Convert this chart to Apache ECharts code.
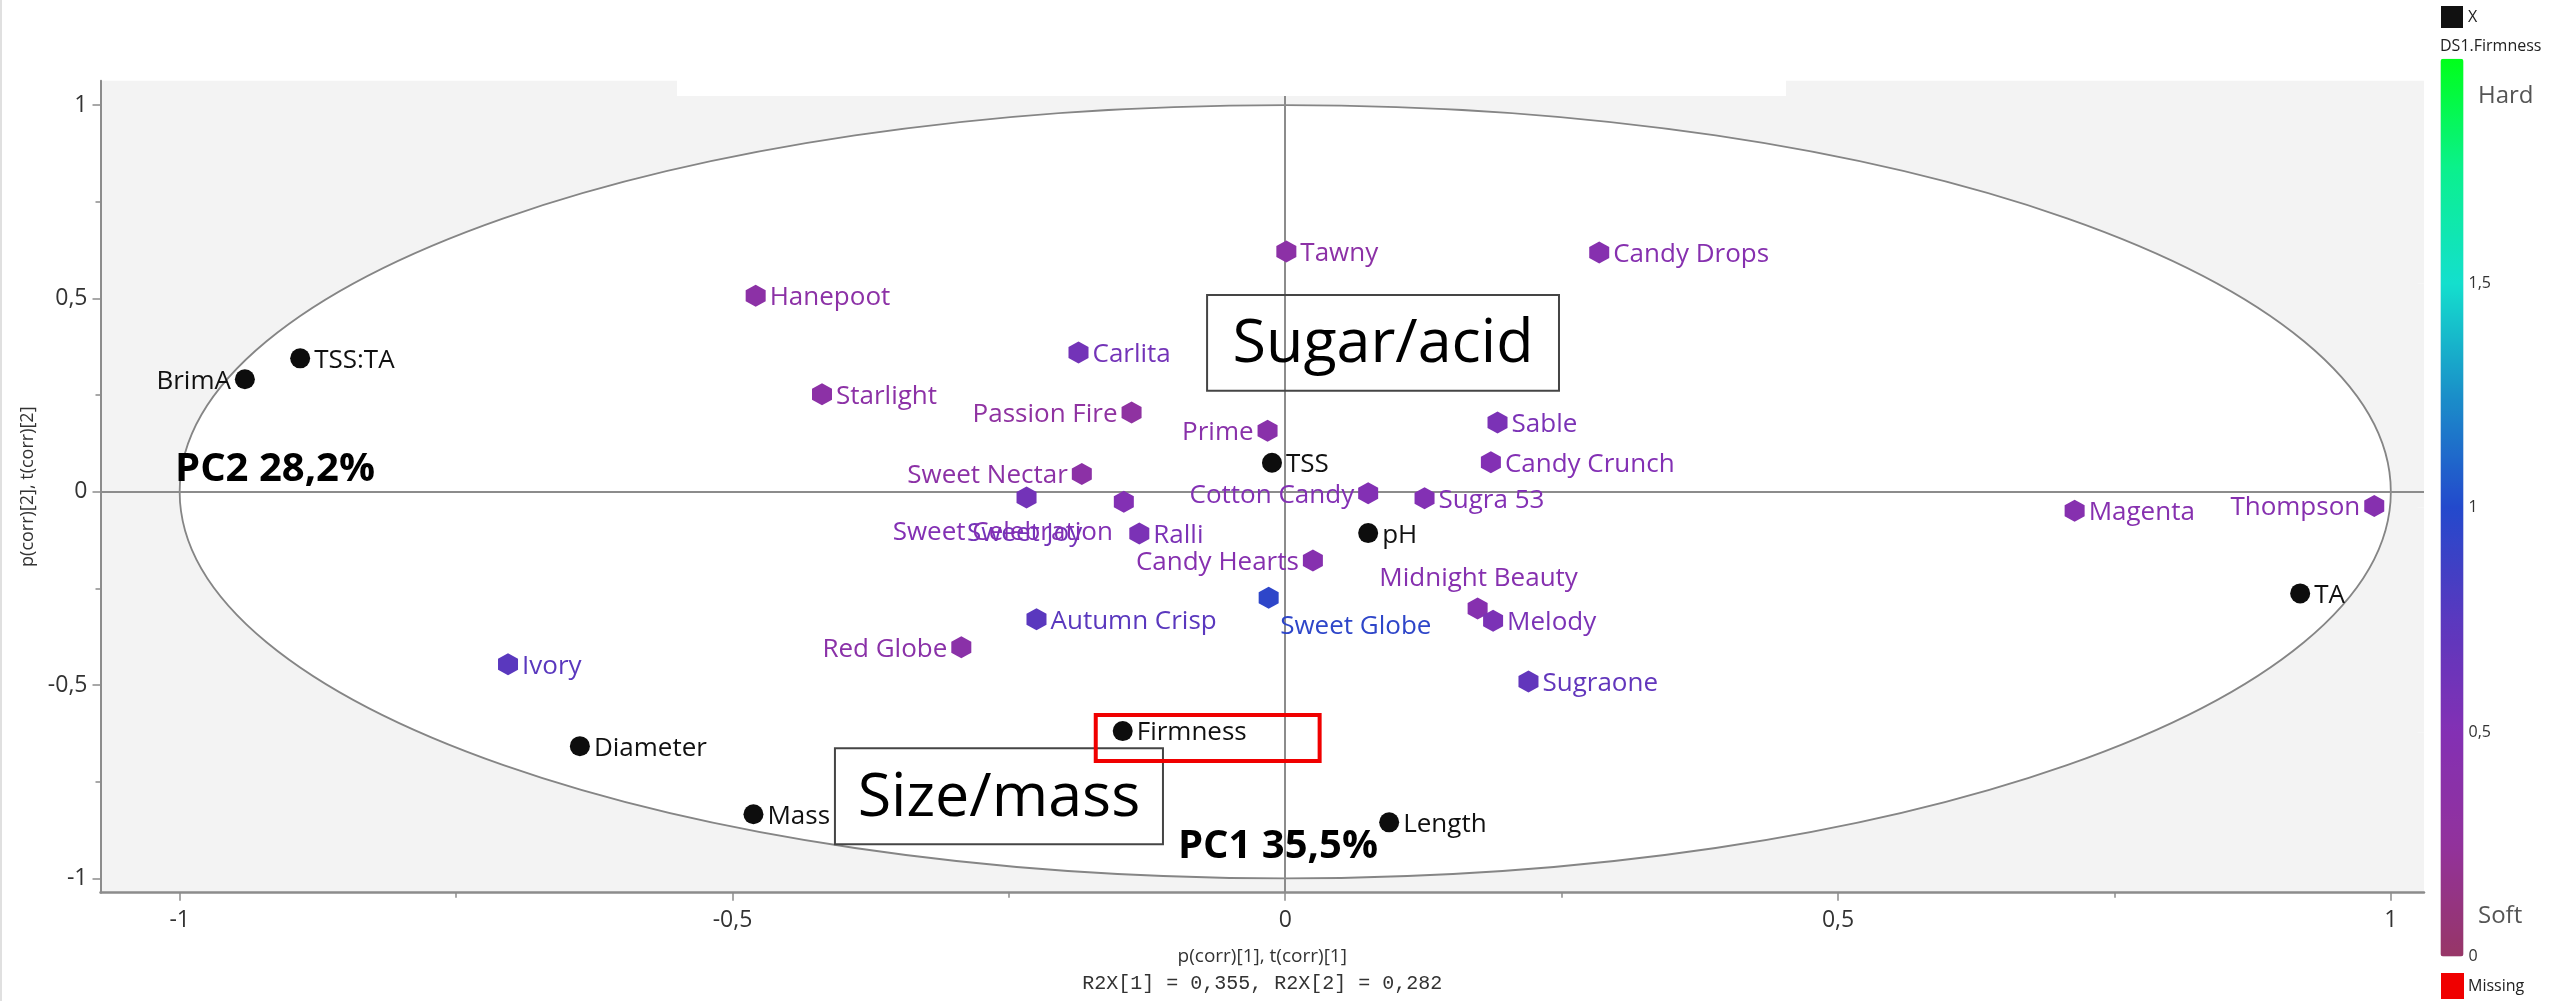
<!DOCTYPE html>
<html><head><meta charset="utf-8">
<script src="https://cdn.jsdelivr.net/npm/echarts@6/dist/echarts.min.js"></script>
<style>html,body{margin:0;padding:0;background:#fff;}#c{width:2552px;height:1001px;}</style>
</head><body><div id="c"></div>
<script>
// ---------- DATA ----------
// Observations (cultivars): PC1 / PC2 scores (t(corr)) and firmness (colour scale)
const cultivars = ['Hanepoot','Starlight','Tawny','Candy Drops','Carlita','Passion Fire','Prime','Sable','Candy Crunch','Sweet Nectar','Cotton Candy','Sugra 53','Sweet Joy','Sweet Celebration','Ralli','Candy Hearts','Sweet Globe','Midnight Beauty','Melody','Autumn Crisp','Red Globe','Sugraone','Ivory','Magenta','Thompson'];
const cultivarPC1 = [-0.479,-0.419,0.001,0.284,-0.187,-0.139,-0.016,0.192,0.186,-0.184,0.075,0.126,-0.234,-0.146,-0.132,0.025,-0.015,0.174,0.188,-0.225,-0.293,0.220,-0.703,0.714,0.985];
const cultivarPC2 = [0.507,0.252,0.621,0.619,0.360,0.205,0.158,0.179,0.076,0.046,-0.004,-0.017,-0.015,-0.026,-0.108,-0.178,-0.274,-0.302,-0.334,-0.330,-0.402,-0.491,-0.446,-0.049,-0.037];
const cultivarFirmness = [0.35,0.35,0.35,0.45,0.6,0.3,0.4,0.55,0.5,0.35,0.5,0.5,0.6,0.5,0.55,0.45,0.95,0.45,0.55,0.75,0.38,0.7,0.75,0.45,0.45];
// Variables (loadings p(corr))
const variables = ['BrimA','TSS:TA','TSS','pH','TA','Firmness','Length','Diameter','Mass'];
const variablePC1 = [-0.941,-0.891,-0.012,0.075,0.918,-0.147,0.094,-0.638,-0.481];
const variablePC2 = [0.291,0.345,0.075,-0.107,-0.263,-0.619,-0.855,-0.658,-0.834];
// Axis ticks
const majorTicks = [-1,-0.5,0,0.5,1];
const minorTicks = [-0.75,-0.25,0.25,0.75];
const colorbarTicks = [0,0.5,1,1.5];
const ellipseRadii = [1,1];
// Annotations
const boxTexts = ['Sugar/acid','Size/mass'];
const boxLeft = [-0.0707,-0.4073], boxRight = [0.2476,-0.1106], boxTop = [0.5087,-0.6637], boxBottom = [0.2612,-0.912];
const pcTexts = ['PC2 28,2%','PC1 35,5%'];
const pcX = [-1.0042,-0.097], pcY = [0.0561,-0.919];
const highlightBox = [-0.1714,-0.5775,0.0311,-0.6965];

// ---------- STYLE ----------
const FONT = '"Open Sans","Noto Sans",sans-serif';
const comma = v => String(v).replace('.', ',');
const labelSide = {'Passion Fire':'left','Prime':'left','Sweet Nectar':'left','Cotton Candy':'left','Candy Hearts':'left','Red Globe':'left','Thompson':'left','BrimA':'left','Midnight Beauty':'top','Sweet Globe':'bottomRight','Sweet Celebration':'bottomLeft','Sweet Joy':'bottom'};
const placements = {
  right:{align:'left',offset:[14,2]},
  left:{align:'right',offset:[-14,2]},
  top:{align:'center',offset:[1,-30]},
  bottomRight:{align:'left',offset:[11.5,29]},
  bottomLeft:{align:'right',offset:[-11,31]},
  bottom:{align:'center',offset:[-2,36]}
};
function labelFor(name){
  const p = placements[labelSide[name] || 'right'];
  return {position:['50%','50%'], align:p.align, verticalAlign:'middle', offset:p.offset};
}
const HEX = 'path://M0,-1L0.866,-0.5L0.866,0.5L0,1L-0.866,0.5L-0.866,-0.5Z';

const cultivarData = cultivars.map((n,i)=>({name:n, value:[cultivarPC1[i],cultivarPC2[i],cultivarFirmness[i]], label:labelFor(n)}));
const variableData = variables.map((n,i)=>({name:n, value:[variablePC1[i],variablePC2[i]], label:labelFor(n)}));

const axisGray = '#8c8c8c';
const chart = echarts.init(document.getElementById('c'), null, {width:2552, height:1001});
chart.setOption({
  animation:false,
  backgroundColor:'#ffffff',
  grid:[
    {left:100.5, top:80.7, right:128, bottom:108.3, show:true, backgroundColor:'#f3f3f3', borderWidth:0},
    {left:2440.5, top:58.7, width:23, height:897.9, show:false}
  ],
  xAxis:[
    {gridIndex:0, type:'value', min:-1.0716, max:1.030, position:'bottom',
     axisLine:{show:true, onZero:false, lineStyle:{color:axisGray, width:2.5}},
     axisTick:{show:true, length:8, customValues:majorTicks, lineStyle:{color:axisGray, width:1.5}},
     axisLabel:{customValues:majorTicks, formatter:comma, fontSize:23, color:'#333', fontFamily:FONT, margin:16},
     splitLine:{show:false},
     name:'{a|p(corr)[1], t(corr)[1]}\n{b|R2X[1] = 0,355, R2X[2] = 0,282}', nameLocation:'middle', nameGap:51,
     nameTextStyle:{rich:{a:{fontSize:19, fontFamily:FONT, color:'#333', lineHeight:26, align:'center'}, b:{fontSize:20, fontFamily:'"Liberation Mono","DejaVu Sans Mono",monospace', color:'#333', lineHeight:28, align:'center'}}}},
    {gridIndex:0, type:'value', min:-1.0716, max:1.030, position:'bottom',
     axisLine:{show:false, onZero:false}, axisLabel:{show:false}, splitLine:{show:false},
     axisTick:{show:true, length:5, customValues:minorTicks, lineStyle:{color:axisGray, width:1.5}}},
    {gridIndex:1, type:'value', min:0, max:1, show:false}
  ],
  yAxis:[
    {gridIndex:0, type:'value', min:-1.037, max:1.063, position:'left',
     axisLine:{show:true, onZero:false, lineStyle:{color:axisGray, width:2}},
     axisTick:{show:true, length:8, customValues:majorTicks, lineStyle:{color:axisGray, width:1.5}},
     axisLabel:{customValues:majorTicks, formatter:comma, fontSize:23, color:'#333', fontFamily:FONT, margin:13},
     splitLine:{show:false},
     name:'p(corr)[2], t(corr)[2]', nameLocation:'middle', nameGap:60, nameRotate:90,
     nameTextStyle:{fontSize:18, fontFamily:FONT, color:'#333'}},
    {gridIndex:0, type:'value', min:-1.037, max:1.063, position:'left',
     axisLine:{show:false, onZero:false}, axisLabel:{show:false}, splitLine:{show:false},
     axisTick:{show:true, length:5, customValues:minorTicks, lineStyle:{color:axisGray, width:1.5}}},
    {gridIndex:1, type:'value', min:0, max:2, position:'right',
     axisLine:{show:false}, splitLine:{show:false},
     axisTick:{show:true, inside:true, length:23, customValues:[0.5,1,1.5], lineStyle:{color:'rgba(255,255,255,0.25)', width:1}},
     axisLabel:{customValues:colorbarTicks, formatter:comma, fontSize:16, color:'#333', fontFamily:FONT, margin:5}}
  ],
  visualMap:{type:'continuous', min:0, max:2, dimension:2, seriesIndex:2, orient:'vertical',
    left:2440.5, top:58.7, itemWidth:23, itemHeight:897.9, padding:0, calculable:false, hoverLink:false,
    inRange:{color:['#973667','#92329c','#8330b4','#5a38be','#2349cc','#1a8fc9','#14dfcd','#0bf08f','#00ff1a']}},
  series:[
    {type:'custom', name:'ellipse', xAxisIndex:0, yAxisIndex:0, z:1, silent:true, clip:false,
     data:[[0,0,ellipseRadii[0],ellipseRadii[1]]],
     renderItem:(params, api)=>{
       const c = api.coord([api.value(0), api.value(1)]);
       const px = api.coord([api.value(0)+api.value(2), api.value(1)]);
       const py = api.coord([api.value(0), api.value(1)+api.value(3)]);
       return {type:'ellipse', shape:{cx:c[0], cy:c[1], rx:px[0]-c[0], ry:c[1]-py[1]}, style:{fill:'#ffffff', stroke:'#858585', lineWidth:1.8}};
     },
     markLine:{silent:true, z:2, symbol:'none', label:{show:false}, lineStyle:{color:axisGray, width:2, type:'solid'}, data:[{xAxis:0},{yAxis:0}]}
    },
    {type:'scatter', name:'X', xAxisIndex:0, yAxisIndex:0, z:3, symbol:'circle', symbolSize:20,
     itemStyle:{color:'#0d0d0d', opacity:1}, data:variableData,
     label:{show:true, formatter:'{b}', fontSize:26, fontFamily:FONT, color:'#111111'}},
    {type:'scatter', name:'obs', xAxisIndex:0, yAxisIndex:0, z:3, symbol:HEX, symbolSize:[20,22],
     itemStyle:{opacity:1}, data:cultivarData,
     label:{show:true, formatter:'{b}', fontSize:26, fontFamily:FONT, color:'inherit'}},
    {type:'custom', name:'boxes', xAxisIndex:0, yAxisIndex:0, z:5, silent:true, clip:false,
     data:boxTexts.map((t,i)=>[boxLeft[i],boxTop[i],boxRight[i],boxBottom[i]]),
     renderItem:(params, api)=>{
       const a = api.coord([api.value(0), api.value(1)]);
       const b = api.coord([api.value(2), api.value(3)]);
       return {type:'group', children:[
         {type:'rect', shape:{x:a[0], y:a[1], width:b[0]-a[0], height:b[1]-a[1]}, style:{fill:'none', stroke:'#454545', lineWidth:2}},
         {type:'text', style:{text:boxTexts[params.dataIndex], x:(a[0]+b[0])/2, y:(a[1]+b[1])/2+2, font:'61px '+FONT, fill:'#000', textAlign:'center', textVerticalAlign:'middle'}}
       ]};
     }},
    {type:'custom', name:'pc', xAxisIndex:0, yAxisIndex:0, z:5, silent:true, clip:false,
     data:pcTexts.map((t,i)=>[pcX[i],pcY[i]]),
     renderItem:(params, api)=>{
       const a = api.coord([api.value(0), api.value(1)]);
       return {type:'text', style:{text:pcTexts[params.dataIndex], x:a[0], y:a[1], font:'bold 40px '+FONT, fill:'#000', textAlign:'left', textVerticalAlign:'middle'}};
     }},
    {type:'custom', name:'highlight', xAxisIndex:0, yAxisIndex:0, z:5, silent:true, clip:false,
     data:[highlightBox],
     renderItem:(params, api)=>{
       const a = api.coord([api.value(0), api.value(1)]);
       const b = api.coord([api.value(2), api.value(3)]);
       return {type:'rect', shape:{x:a[0], y:a[1], width:b[0]-a[0], height:b[1]-a[1]}, style:{fill:'none', stroke:'#f00000', lineWidth:4}};
     }}
  ],
  graphic:[
    {type:'rect', z:100, shape:{x:677, y:0, width:1109, height:96}, style:{fill:'#ffffff'}},
    {type:'line', z:100, shape:{x1:1, y1:0, x2:1, y2:1001}, style:{stroke:'#e0e0e0', lineWidth:2}},
    {type:'rect', z:100, shape:{x:2441, y:6, width:22, height:22}, style:{fill:'#111'}},
    {type:'text', z:100, x:2468, y:17, style:{text:'X', font:'16px '+FONT, fill:'#222', textVerticalAlign:'middle'}},
    {type:'text', z:100, x:2440, y:46, style:{text:'DS1.Firmness', font:'16px '+FONT, fill:'#222', textVerticalAlign:'middle'}},
    {type:'text', z:100, x:2478, y:96, style:{text:'Hard', font:'24px '+FONT, fill:'#555', textVerticalAlign:'middle'}},
    {type:'text', z:100, x:2478, y:916, style:{text:'Soft', font:'24px '+FONT, fill:'#555', textVerticalAlign:'middle'}},
    {type:'rect', z:100, shape:{x:2441, y:973, width:23, height:26}, style:{fill:'#f00000'}},
    {type:'text', z:100, x:2468, y:986, style:{text:'Missing', font:'16px '+FONT, fill:'#222', textVerticalAlign:'middle'}}
  ]
});
</script></body></html>
